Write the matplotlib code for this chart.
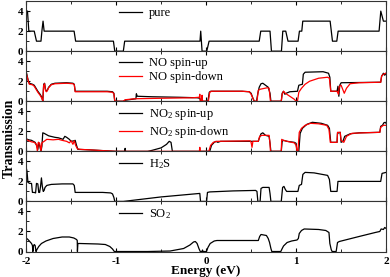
import numpy as np
import matplotlib
matplotlib.use("Agg")
from matplotlib import pyplot as plt
from matplotlib.ticker import MultipleLocator

plt.rcParams['font.family'] = ['Liberation Serif', 'DejaVu Serif']
plt.rcParams['mathtext.fontset'] = 'custom'
plt.rcParams['mathtext.rm'] = 'Liberation Serif'
plt.rcParams['mathtext.default'] = 'regular'

# ---- data (energy in eV, transmission) ----
pure_e = [-2.0, -1.985, -1.97, -1.91, -1.885, -1.835, -1.825, -1.812, -1.80, -1.467, -1.45,
          -1.03, -1.015, -0.92, -0.905, -0.068, -0.06, -0.045, 0.007, 0.033, 0.59, 0.607,
          0.71, 0.726, 0.837, 0.852, 0.885, 0.91, 1.022, 1.037, 1.063, 1.074, 1.378, 1.404,
          1.452, 1.467, 1.922, 1.941, 1.97, 2.0]
pure_t = [4.0, 4.0, 2.0, 2.0, 1.0, 1.0, 2.0, 3.0, 2.0, 2.0, 1.0,
          1.0, 0.0, 0.0, 1.0, 1.0, 2.0, 0.0, 0.0, 1.0, 1.0, 2.0,
          2.0, 0.0, 0.0, 2.0, 2.0, 1.0, 1.0, 2.0, 2.0, 3.0, 3.0, 1.0,
          1.0, 2.0, 2.0, 4.0, 3.0, 3.0]

no_up_e = [-2.0, -1.99, -1.975, -1.965, -1.93, -1.91, -1.89, -1.87, -1.845, -1.825, -1.815,
           -1.805, -1.795, -1.785, -1.775, -1.765, -1.75, -1.72, -1.68, -1.55, -1.48, -1.465,
           -1.455, -1.10, -1.04, -1.025, -1.015, -0.92, -0.90, -0.78, -0.775, -0.765, -0.60,
           -0.30, -0.10, -0.07, -0.06, 0.02, 0.035, 0.05, 0.40, 0.48, 0.50, 0.52, 0.535, 0.56,
           0.575, 0.59, 0.61, 0.63, 0.66, 0.69, 0.71, 0.72, 0.835, 0.845, 0.86, 0.875, 0.89,
           0.93, 1.015, 1.03, 1.07, 1.08, 1.10, 1.30, 1.36, 1.375, 1.385, 1.455, 1.465, 1.475,
           1.485, 1.50, 1.94, 1.95, 1.97, 1.985, 2.0]
no_up_t = [3.0, 2.6, 2.0, 1.8, 1.7, 1.6, 1.3, 1.0, 0.7, 0.4, 0.0,
           1.7, 1.8, 1.2, 1.0, 1.1, 1.4, 1.7, 1.8, 1.85, 1.8, 1.7,
           1.0, 1.0, 0.95, 0.8, 0.0, 0.0, 0.1, 0.25, 0.75, 0.5, 0.45,
           0.4, 0.35, 0.3, 0.0, 0.0, 0.9, 1.0, 1.0, 0.95, 0.8, 0.3, 0.0, 0.0,
           0.8, 1.4, 1.75, 1.8, 1.6, 1.4, 0.8, 0.0, 0.0, 0.8, 1.0, 0.7, 0.8,
           0.95, 1.0, 1.6, 1.7, 2.7, 2.9, 2.95, 2.8, 2.4, 1.0, 1.0, 1.5, 0.5,
           1.6, 1.85, 1.9, 2.5, 2.8, 2.6, 2.8]

no_dn_e = [-2.0, -1.99, -1.975, -1.965, -1.93, -1.91, -1.89, -1.87, -1.845, -1.825, -1.815,
           -1.805, -1.795, -1.785, -1.775, -1.765, -1.75, -1.72, -1.68, -1.55, -1.48, -1.465,
           -1.455, -1.10, -1.04, -1.025, -1.015, -0.92, -0.90, -0.80, -0.50, -0.15, -0.075,
           -0.07, -0.065, -0.05, -0.045, -0.04, 0.025, 0.04, 0.06, 0.40, 0.48, 0.50, 0.52,
           0.535, 0.565, 0.58, 0.60, 0.68, 0.70, 0.715, 0.835, 0.845, 0.86, 0.88, 0.93, 0.98,
           1.0, 1.015, 1.03, 1.06, 1.10, 1.15, 1.25, 1.35, 1.37, 1.385, 1.455, 1.47, 1.48,
           1.50, 1.535, 1.56, 1.60, 1.70, 1.94, 1.95, 1.97, 2.0]
no_dn_t = [2.9, 2.5, 2.0, 1.7, 1.65, 1.5, 1.2, 0.9, 0.6, 0.3, 0.0,
           1.6, 1.75, 1.1, 0.95, 1.05, 1.35, 1.65, 1.75, 1.8, 1.75, 1.65,
           0.95, 0.95, 0.9, 0.75, 0.0, 0.0, 0.15, 0.25, 0.3, 0.35, 0.4,
           0.7, 0.0, 0.0, 0.6, 0.0, 0.0, 0.9, 1.0, 1.0, 0.95, 0.7, 0.3,
           0.0, 0.0, 1.1, 1.2, 1.35, 1.3, 0.0, 0.0, 0.7, 1.0, 0.8, 0.5, 0.2,
           0.0, 0.0, 0.9, 1.3, 1.7, 2.0, 2.3, 2.4, 2.3, 1.0, 1.0, 0.7, 1.5,
           1.6, 0.8, 1.3, 1.75, 1.85, 1.9, 2.5, 2.7, 2.8]

no2_up_e = [-2.0, -1.97, -1.94, -1.92, -1.90, -1.88, -1.87, -1.86, -1.85, -1.835, -1.825,
            -1.815, -1.80, -1.75, -1.68, -1.64, -1.59, -1.57, -1.55, -1.52, -1.50, -1.47,
            -1.455, -1.44, -1.425, -1.30, -1.10, -1.0, -0.905, -0.90, -0.895, -0.65, -0.6,
            -0.5, -0.44, -0.41, -0.39, -0.375, 0.04, 0.06, 0.09, 0.11, 0.13, 0.16, 0.50,
            0.58, 0.59, 0.61, 0.63, 0.66, 0.70, 0.71, 0.72, 0.835, 0.845, 0.86, 0.90, 0.98,
            1.00, 1.01, 1.03, 1.045, 1.07, 1.12, 1.18, 1.28, 1.35, 1.37, 1.385, 1.455, 1.46,
            1.49, 1.50, 1.52, 1.54, 1.60, 1.70, 1.93, 1.94, 1.96, 1.975, 1.99, 2.0]
no2_up_t = [1.25, 1.15, 1.1, 1.0, 0.9, 0.5, 0.2, 0.9, 0.6, 0.0, 0.5,
            1.85, 1.8, 1.55, 1.4, 1.35, 1.2, 1.5, 1.4, 1.2, 1.0, 1.05,
            1.1, 0.6, 0.2, 0.15, 0.05, 0.0, 0.0, 0.3, 0.0, 0.0, 0.1,
            0.35, 0.7, 1.0, 0.9, 0.0, 0.0, 0.6, 0.9, 1.0, 0.9, 1.0, 1.0,
            1.0, 1.3, 1.75, 1.85, 1.6, 1.5, 0.8, 0.0, 0.0, 1.0, 1.1, 1.0, 0.9,
            0.8, 0.0, 0.0, 1.8, 2.3, 2.7, 2.9, 2.8, 2.6, 2.3, 0.9, 0.9, 1.8,
            1.9, 0.9, 1.0, 1.5, 1.75, 1.85, 1.9, 2.5, 2.6, 2.85, 2.9, 2.8]

no2_dn_e = [-2.0, -1.97, -1.94, -1.91, -1.885, -1.875, -1.865, -1.85, -1.835, -1.825, -1.80,
            -1.77, -1.70, -1.64, -1.60, -1.55, -1.52, -1.50, -1.48, -1.465, -1.45, -1.43,
            -1.40, -1.20, -1.0, -0.075, -0.07, -0.065, 0.03, 0.05, 0.08, 0.12, 0.49, 0.50,
            0.51, 0.52, 0.58, 0.595, 0.62, 0.70, 0.71, 0.715, 0.835, 0.84, 0.86, 0.90, 0.98,
            1.0, 1.01, 1.02, 1.035, 1.06, 1.10, 1.16, 1.25, 1.34, 1.365, 1.38, 1.455, 1.46,
            1.49, 1.50, 1.53, 1.56, 1.62, 1.75, 1.93, 1.94, 1.97, 2.0]
no2_dn_t = [1.2, 1.05, 0.95, 0.9, 0.7, 0.0, 0.9, 0.8, 0.0, 0.85, 1.0,
            1.2, 1.15, 1.2, 1.1, 1.0, 0.85, 1.05, 0.7, 1.05, 0.6, 0.25,
            0.2, 0.1, 0.0, 0.0, 0.4, 0.0, 0.0, 0.6, 0.9, 1.0, 1.05, 0.9,
            0.4, 1.0, 1.0, 1.5, 1.6, 1.6, 0.8, 0.0, 0.0, 1.2, 1.1, 1.0, 0.85,
            0.6, 0.0, 0.0, 1.9, 2.3, 2.6, 2.8, 2.75, 2.6, 2.2, 0.9, 0.9, 1.9,
            1.9, 1.1, 0.9, 1.5, 1.8, 1.85, 1.9, 2.4, 2.6, 2.6]

h2s_e = [-2.0, -1.99, -1.98, -1.96, -1.94, -1.93, -1.91, -1.895, -1.885, -1.87, -1.86,
         -1.85, -1.84, -1.83, -1.82, -1.81, -1.80, -1.79, -1.77, -1.72, -1.60, -1.48,
         -1.465, -1.455, -1.15, -1.06, -1.04, -1.025, -1.015, -0.92, -0.5, -0.07, -0.062,
         0.005, 0.015, 0.04, 0.30, 0.55, 0.565, 0.575, 0.60, 0.61, 0.63, 0.70, 0.71, 0.72,
         0.835, 0.85, 0.865, 0.88, 0.895, 1.02, 1.035, 1.06, 1.075, 1.10, 1.20, 1.35, 1.37,
         1.385, 1.455, 1.465, 1.94, 1.955, 2.0]
h2s_t = [3.4, 3.0, 1.9, 1.8, 1.8, 0.9, 0.9, 0.85, 1.8, 1.75, 0.9,
         0.9, 1.5, 2.35, 1.5, 1.0, 1.1, 1.4, 1.6, 1.7, 1.75, 1.75,
         1.6, 0.9, 0.9, 0.85, 0.75, 0.4, 0.0, 0.0, 0.45, 0.8, 0.0,
         0.0, 0.9, 0.95, 1.05, 1.1, 1.0, 0.0, 0.0, 1.3, 1.4, 1.4, 0.8, 0.0,
         0.0, 1.4, 1.5, 1.2, 1.0, 1.0, 1.6, 1.7, 2.7, 2.9, 2.85, 2.6, 2.2,
         1.0, 1.0, 2.0, 2.0, 2.8, 2.9]

so2_e = [-2.0, -1.98, -1.96, -1.94, -1.93, -1.925, -1.92, -1.91, -1.90, -1.89, -1.88,
         -1.86, -1.83, -1.78, -1.70, -1.60, -1.52, -1.47, -1.44, -1.432, -1.43, -1.425,
         -1.40, -1.20, -1.12, -1.07, -1.04, -1.02, -0.65, -0.40, -0.25, -0.18, -0.14,
         -0.12, -0.10, -0.08, -0.065, -0.045, -0.04, -0.035, 0.004, 0.02, 0.045, 0.09,
         0.12, 0.58, 0.595, 0.61, 0.64, 0.67, 0.69, 0.705, 0.72, 0.73, 0.83, 0.84, 0.86,
         0.90, 0.95, 1.01, 1.025, 1.035, 1.06, 1.09, 1.25, 1.33, 1.365, 1.375, 1.39, 1.40,
         1.445, 1.46, 1.48, 1.70, 1.88, 1.93, 1.945, 1.97, 1.985, 2.0]
so2_t = [1.35, 1.2, 1.0, 0.8, 0.6, 0.0, 0.5, 0.7, 0.6, 0.0, 0.2,
         0.5, 0.8, 1.05, 1.3, 1.45, 1.45, 1.35, 1.2, 1.1, 0.0, 0.8,
         0.8, 0.75, 0.7, 0.5, 0.25, 0.0, 0.0, 0.05, 0.3, 0.65, 0.95,
         1.0, 0.8, 0.3, 0.0, 0.0, 0.15, 0.0, 0.0, 0.4, 0.8, 1.05,
         1.1, 1.1, 1.5, 1.7, 1.65, 1.6, 1.3, 0.9, 0.3, 0.0, 0.0, 0.2, 0.55,
         0.9, 1.05, 1.15, 1.3, 1.8, 2.1, 2.25, 2.2, 2.1, 1.9, 0.8, 0.2, 0.0,
         0.0, 0.9, 1.0, 1.5, 1.9, 2.0, 2.25, 2.2, 2.4, 2.3]

panels = [
    [(pure_e, pure_t, 'k', 'pure')],
    [(no_up_e, no_up_t, 'k', 'NO spin-up'), (no_dn_e, no_dn_t, 'r', 'NO spin-down')],
    [(no2_up_e, no2_up_t, 'k', 'NO$_2$ spin-up'), (no2_dn_e, no2_dn_t, 'r', 'NO$_2$ spin-down')],
    [(h2s_e, h2s_t, 'k', 'H$_2$S')],
    [(so2_e, so2_t, 'k', 'SO$_2$')],
]


def main():
    fig, axes = plt.subplots(5, 1, sharex=True, figsize=(3.9, 2.77), dpi=100)
    fig.subplots_adjust(left=0.067, right=0.99, top=0.996, bottom=0.092, hspace=0)

    for ax, series in zip(axes, panels):
        for e, t, c, lab in series:
            ax.plot(e, t, color=c, lw=0.9, label=lab)
        ax.set_xlim(-2, 2)
        ax.set_ylim(0, 5)
        ax.set_yticks([0, 2, 4])
        ax.yaxis.set_minor_locator(MultipleLocator(1))
        ax.xaxis.set_major_locator(MultipleLocator(1))
        ax.xaxis.set_minor_locator(MultipleLocator(0.5))
        ax.tick_params(which='both', direction='in', top=True, right=False,
                       labelsize=8, pad=2)
        ax.tick_params(axis='x', pad=4)
        ax.tick_params(which='major', length=3, width=0.8)
        ax.tick_params(which='minor', length=2, width=0.6)
        for lbl in ax.get_yticklabels() + ax.get_xticklabels():
            lbl.set_fontweight('bold')
        for sp in ax.spines.values():
            sp.set_linewidth(0.8)
            sp.set_color('#333333')
        ax.legend(loc='upper left', bbox_to_anchor=(0.238, 1.03), frameon=False,
                  fontsize=9, handlelength=1.85, handletextpad=0.55,
                  labelspacing=0.15, borderaxespad=0.2)

    axes[-1].set_xticks([-2, -1, 0, 1, 2])
    axes[-1].set_xticklabels(['-2', '-1', '0', '1', '2'], fontweight='bold')
    axes[-1].set_xlabel('Energy (eV)', fontsize=9.5, fontweight='bold', labelpad=-1)
    fig.text(0.008, 0.5, 'Transmission', rotation=90, va='center', ha='left',
             fontsize=10, fontweight='bold')

    fig.savefig('out.png', dpi=100)


if __name__ == "__main__":
    main()
